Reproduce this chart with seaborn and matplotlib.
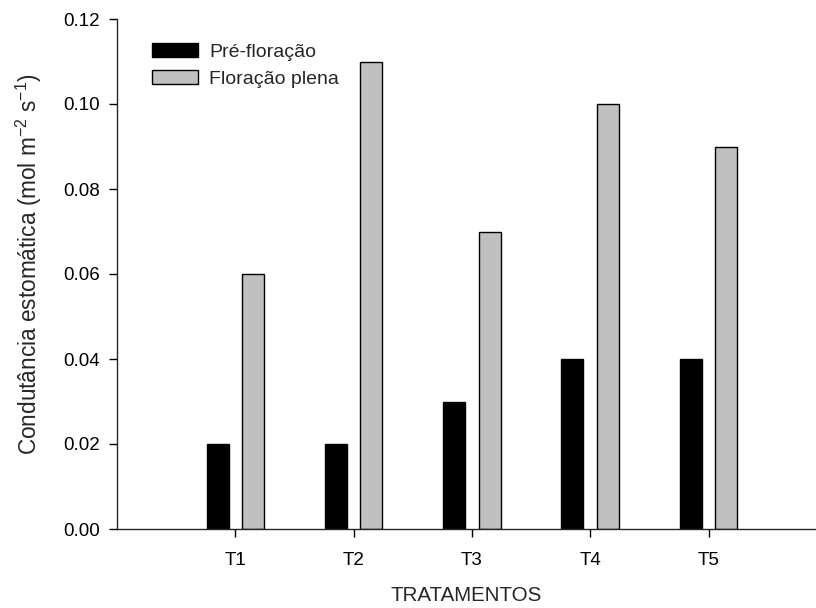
import matplotlib
matplotlib.use("Agg")
import matplotlib.pyplot as plt
import seaborn as sns
import pandas as pd

categories = ["T1", "T2", "T3", "T4", "T5"]
pre_floracao = [0.02, 0.02, 0.03, 0.04, 0.04]
floracao_plena = [0.06, 0.11, 0.07, 0.10, 0.09]
series_names = ["Pré-floração", "Floração plena"]
y_ticks = [0.00, 0.02, 0.04, 0.06, 0.08, 0.10, 0.12]

sns.set_style("ticks")
plt.rcParams["font.family"] = ["Liberation Sans", "DejaVu Sans"]
plt.rcParams["mathtext.fontset"] = "custom"
plt.rcParams["mathtext.rm"] = "Liberation Sans"
plt.rcParams["mathtext.it"] = "Liberation Sans:italic"

df = pd.DataFrame({
    "Tratamento": categories * 2,
    "valor": pre_floracao + floracao_plena,
    "serie": [series_names[0]] * len(categories) + [series_names[1]] * len(categories),
})

fig = plt.figure(figsize=(8.16, 6.08), dpi=100)
ax = fig.add_axes([117/816, 1 - 529/608, (815 - 117)/816, (529 - 19)/608])

sns.barplot(data=df, x="Tratamento", y="valor", hue="serie", order=categories,
            hue_order=series_names, palette=["black", "#c0c0c0"],
            edgecolor="black", linewidth=1.0, width=0.6, gap=0.38,
            errorbar=None, ax=ax)

ax.set_xlim(-1, 4.9)
ax.set_ylim(0, 0.12)
ax.set_yticks(y_ticks)
ax.set_yticklabels([f"{v:.2f}" for v in y_ticks])
for s in ["top", "right"]:
    ax.spines[s].set_visible(False)
for s in ["left", "bottom"]:
    ax.spines[s].set_linewidth(1.0)
ax.tick_params(axis="both", direction="out", length=5.5, width=1.0, labelsize=13.5, colors="black")
ax.tick_params(axis="x", pad=11)
ax.tick_params(axis="y", pad=7)

ax.set_xlabel("TRATAMENTOS", fontsize=14.8, labelpad=12)
ax.set_ylabel("Condutância estomática (mol m$^{\\mathrm{-2}}$ s$^{\\mathrm{-1}}$)", fontsize=16.3)
ax.yaxis.set_label_coords(-0.104, 0.52)

leg = ax.legend(loc="upper left", bbox_to_anchor=(138/816, 1 - 29/608),
                bbox_transform=fig.transFigure, frameon=False, fontsize=14,
                handlelength=2.4, handleheight=0.75, handletextpad=0.55,
                labelspacing=0.49, borderpad=0.2)

fig.savefig("out.png", dpi=100)
